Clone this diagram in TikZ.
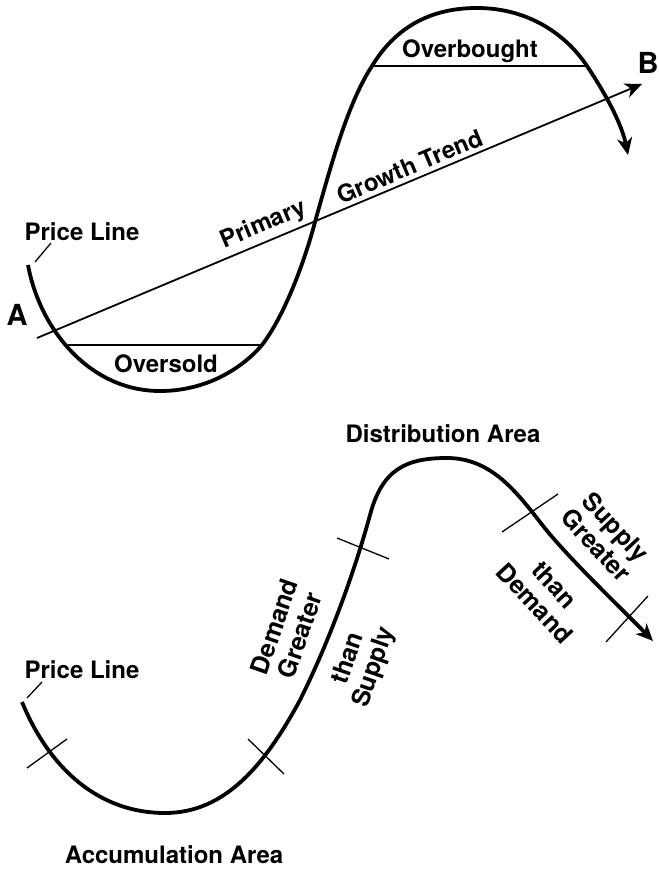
\documentclass[tikz,border=0pt]{standalone}
\usepackage{fontspec}
\setmainfont{TeX Gyre Heros}
\usetikzlibrary{arrows.meta}
\begin{document}
\begin{tikzpicture}[x=1pt,y=-1pt,
  lbl/.style={font=\fontsize{24}{26}\selectfont\bfseries, inner sep=0pt, align=center},
  rlbl/.style={font=\fontsize{25}{27}\selectfont\bfseries, inner sep=0pt, align=center},
  big/.style={font=\fontsize{29}{32}\selectfont\bfseries, inner sep=0pt},
  price/.style={line width=3.8pt},
  thinline/.style={line width=1.8pt},
  tickline/.style={line width=1.3pt},
  tip/.style={-{Stealth[length=17pt,width=15pt,inset=5pt]}}
]
\useasboundingbox (0,0) rectangle (658,869);

% ---------- top diagram ----------
\draw[price, tip] (28,265) .. controls (40,330) and (90,391) .. (160,391)
  .. controls (210,391) and (245,365) .. (262,345)
  .. controls (285,315) and (305,260) .. (315,222)
  .. controls (335,150) and (350,100) .. (372,66)
  .. controls (400,20) and (440,8) .. (477,8)
  .. controls (530,8) and (567,36) .. (587,66)
  .. controls (607,96) and (622,125) .. (628,155);

\coordinate (osL) at (68,345);
\coordinate (osR) at (262,345);
\coordinate (obL) at (372,66);
\coordinate (obR) at (587,66);
\draw[thinline] (osL) -- (osR);
\draw[thinline] (obL) -- (obR);

\coordinate (trA) at (37,338);
\coordinate (trB) at (642,84);
\draw[thinline, tip] (trA) -- (trB)
  node[lbl, pos=0.385, sloped, above=4pt] (primary) {Primary}
  node[lbl, pos=0.625, sloped, above=4pt] (growth) {Growth Trend};

\node[lbl] (price1) at (82,232) {Price Line};
\coordinate (pl1a) at (35,262);
\coordinate (pl1b) at (51,243);
\draw[tickline] (pl1a) -- (pl1b);

\node[big] (labA) at (17,315) {A};
\node[big] (labB) at (648,63) {B};
\node[lbl] (oversold) at (166,364) {Oversold};
\node[lbl] (overbought) at (470,51) {Overbought};

% ---------- bottom diagram ----------
\draw[price, tip] (22,702) .. controls (50,770) and (100,813) .. (165,813)
  .. controls (225,813) and (265,765) .. (300,700)
  .. controls (330,640) and (355,570) .. (370,515)
  .. controls (382,470) and (405,458) .. (447,458)
  .. controls (490,458) and (515,490) .. (540,522)
  .. controls (565,555) and (620,607) .. (653,641);

\coordinate (t1a) at (27,768);  \coordinate (t1b) at (67,739);
\coordinate (t2a) at (248,739); \coordinate (t2b) at (284,774);
\coordinate (t3a) at (337,538); \coordinate (t3b) at (389,559);
\coordinate (t4a) at (502,532); \coordinate (t4b) at (558,494);
\coordinate (t5a) at (606,642); \coordinate (t5b) at (648,596);
\draw[tickline] (t1a) -- (t1b);
\draw[tickline] (t2a) -- (t2b);
\draw[tickline] (t3a) -- (t3b);
\draw[tickline] (t4a) -- (t4b);
\draw[tickline] (t5a) -- (t5b);

\node[lbl] (price2) at (82,670) {Price Line};
\coordinate (pl2a) at (27,698);
\coordinate (pl2b) at (42,682);
\draw[tickline] (pl2a) -- (pl2b);

\node[lbl] (distr) at (443,434) {Distribution Area};
\node[lbl] (accum) at (174,855) {Accumulation Area};

\node[rlbl, rotate=71] (demgr) at (287,631) {Demand\\Greater};
\node[rlbl, rotate=71] (thsup) at (362,663) {than\\Supply};
\node[rlbl, rotate=-47] (supgr) at (606,536) {Supply\\Greater};
\node[rlbl, rotate=-47] (thdem) at (545,594) {than\\Demand};
\end{tikzpicture}
\end{document}
